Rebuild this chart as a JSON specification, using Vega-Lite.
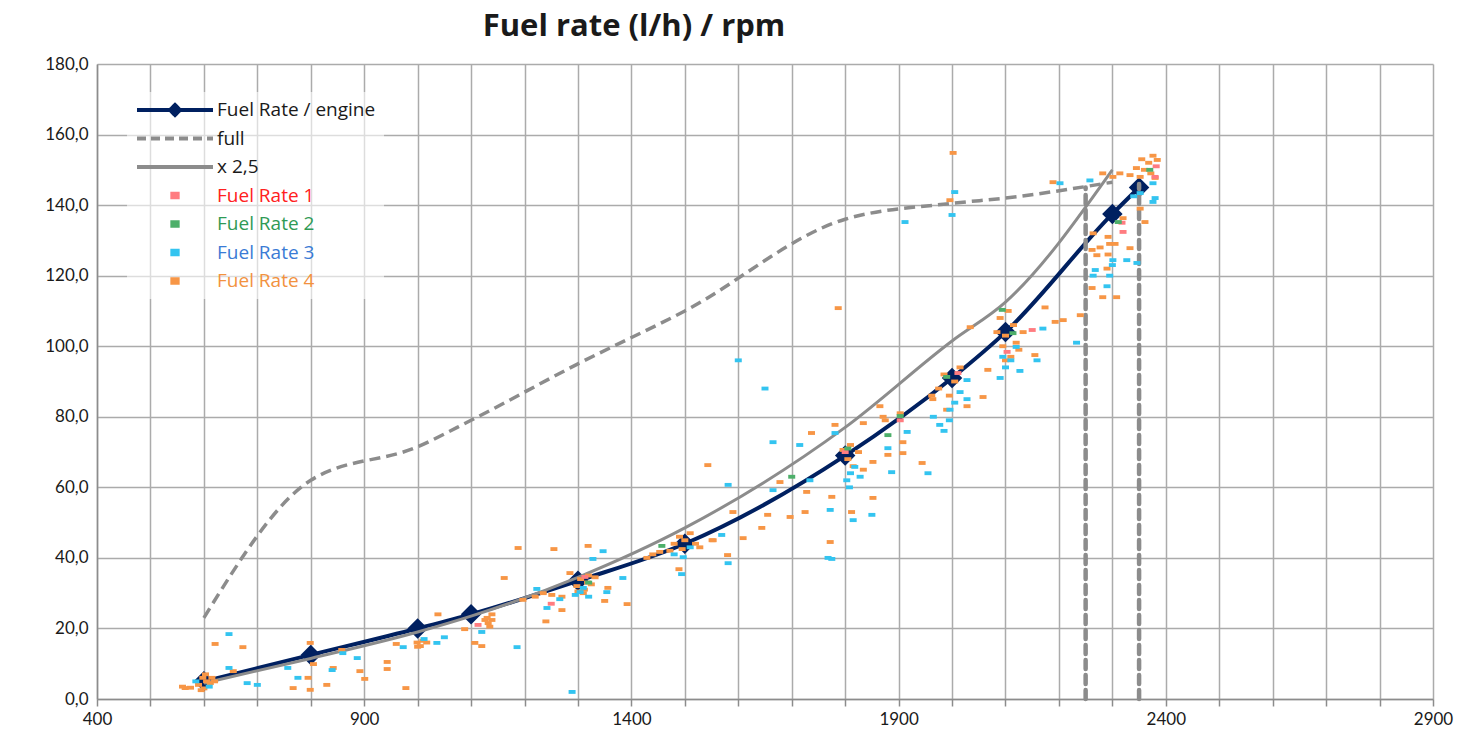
{
  "$schema": "https://vega.github.io/schema/vega-lite/v6.json",
  "width": 1336,
  "height": 635,
  "autosize": "none",
  "padding": {"left": 97, "top": 64, "right": 27, "bottom": 43},
  "background": "white",
  "config": {"view": {"stroke": null}, "font": "Lato"},
  "title": {"text": "Fuel rate (l/h) / rpm", "font": "Open Sans", "fontSize": 31, "fontWeight": "bold", "color": "#1a1a1a", "anchor": "middle", "dx": -131, "offset": 12},
  "datasets": {
    "engine": [
      {"s": "Fuel Rate / engine", "x": 600, "y": 5},
      {"s": "Fuel Rate / engine", "x": 800, "y": 12.5},
      {"s": "Fuel Rate / engine", "x": 1000, "y": 20},
      {"s": "Fuel Rate / engine", "x": 1100, "y": 24},
      {"s": "Fuel Rate / engine", "x": 1300, "y": 33.5},
      {"s": "Fuel Rate / engine", "x": 1500, "y": 44},
      {"s": "Fuel Rate / engine", "x": 1800, "y": 69},
      {"s": "Fuel Rate / engine", "x": 2000, "y": 91},
      {"s": "Fuel Rate / engine", "x": 2100, "y": 104},
      {"s": "Fuel Rate / engine", "x": 2300, "y": 137.5},
      {"s": "Fuel Rate / engine", "x": 2350, "y": 145}
    ],
    "full": [
      {"s": "full", "x": 600, "y": 23},
      {"s": "full", "x": 800, "y": 62},
      {"s": "full", "x": 1000, "y": 71.5},
      {"s": "full", "x": 1100, "y": 79},
      {"s": "full", "x": 1300, "y": 95},
      {"s": "full", "x": 1500, "y": 110},
      {"s": "full", "x": 1800, "y": 136},
      {"s": "full", "x": 2000, "y": 140.5},
      {"s": "full", "x": 2100, "y": 142},
      {"s": "full", "x": 2300, "y": 146.5}
    ],
    "x25": [
      {"s": "x 2,5", "x": 600, "y": 4.5},
      {"s": "x 2,5", "x": 800, "y": 11.5},
      {"s": "x 2,5", "x": 1000, "y": 19},
      {"s": "x 2,5", "x": 1100, "y": 23.5},
      {"s": "x 2,5", "x": 1300, "y": 34.5},
      {"s": "x 2,5", "x": 1500, "y": 48.5},
      {"s": "x 2,5", "x": 1800, "y": 77},
      {"s": "x 2,5", "x": 2000, "y": 101.5},
      {"s": "x 2,5", "x": 2100, "y": 112.5},
      {"s": "x 2,5", "x": 2300, "y": 150}
    ],
    "vlines": [
      {"x": 2250, "y": 0, "y2": 145},
      {"x": 2350, "y": 0, "y2": 146}
    ],
    "scatter": [
      {"s": "Fuel Rate 4", "x": 590, "y": 4}, {"s": "Fuel Rate 4", "x": 600, "y": 3}, {"s": "Fuel Rate 4", "x": 605, "y": 5}, {"s": "Fuel Rate 4", "x": 612, "y": 4.5}, {"s": "Fuel Rate 4", "x": 598, "y": 6}, {"s": "Fuel Rate 4", "x": 615, "y": 6}, {"s": "Fuel Rate 4", "x": 595, "y": 2.5}, {"s": "Fuel Rate 4", "x": 560, "y": 3.5}, {"s": "Fuel Rate 4", "x": 575, "y": 3.2}, {"s": "Fuel Rate 4", "x": 620, "y": 5}, {"s": "Fuel Rate 4", "x": 603, "y": 7},
      {"s": "Fuel Rate 4", "x": 621, "y": 15.6}, {"s": "Fuel Rate 4", "x": 673, "y": 14.7}, {"s": "Fuel Rate 4", "x": 565, "y": 3.1}, {"s": "Fuel Rate 4", "x": 655, "y": 7.9}, {"s": "Fuel Rate 4", "x": 767, "y": 3.1}, {"s": "Fuel Rate 4", "x": 799, "y": 2.6}, {"s": "Fuel Rate 4", "x": 799, "y": 15.9}, {"s": "Fuel Rate 4", "x": 805, "y": 9.9}, {"s": "Fuel Rate 4", "x": 795, "y": 6}, {"s": "Fuel Rate 4", "x": 842, "y": 8.8}, {"s": "Fuel Rate 4", "x": 858, "y": 13.9}, {"s": "Fuel Rate 4", "x": 892, "y": 7.9}, {"s": "Fuel Rate 4", "x": 901, "y": 5.7}, {"s": "Fuel Rate 4", "x": 830, "y": 4}, {"s": "Fuel Rate 4", "x": 943, "y": 10.5}, {"s": "Fuel Rate 4", "x": 943, "y": 8.5}, {"s": "Fuel Rate 4", "x": 978, "y": 3.1}, {"s": "Fuel Rate 4", "x": 960, "y": 15.6}, {"s": "Fuel Rate 4", "x": 999, "y": 16}, {"s": "Fuel Rate 4", "x": 1005, "y": 15}, {"s": "Fuel Rate 4", "x": 1010, "y": 16.5}, {"s": "Fuel Rate 4", "x": 1017, "y": 16}, {"s": "Fuel Rate 4", "x": 1000, "y": 14.8}, {"s": "Fuel Rate 4", "x": 1038, "y": 24}, {"s": "Fuel Rate 4", "x": 1088, "y": 19.8}, {"s": "Fuel Rate 4", "x": 1107, "y": 15.9}, {"s": "Fuel Rate 4", "x": 1120, "y": 15}, {"s": "Fuel Rate 4", "x": 1126, "y": 22.4}, {"s": "Fuel Rate 4", "x": 1132, "y": 21.5}, {"s": "Fuel Rate 4", "x": 1139, "y": 22.4}, {"s": "Fuel Rate 4", "x": 1135, "y": 20.5},
      {"s": "Fuel Rate 4", "x": 1188, "y": 42.8}, {"s": "Fuel Rate 4", "x": 1255, "y": 42.5}, {"s": "Fuel Rate 4", "x": 1162, "y": 34.3}, {"s": "Fuel Rate 4", "x": 1130, "y": 23}, {"s": "Fuel Rate 4", "x": 1139, "y": 24}, {"s": "Fuel Rate 4", "x": 1240, "y": 22}, {"s": "Fuel Rate 4", "x": 1270, "y": 25.2}, {"s": "Fuel Rate 4", "x": 1298, "y": 32}, {"s": "Fuel Rate 4", "x": 1305, "y": 34}, {"s": "Fuel Rate 4", "x": 1312, "y": 31}, {"s": "Fuel Rate 4", "x": 1318, "y": 33}, {"s": "Fuel Rate 4", "x": 1325, "y": 32.5}, {"s": "Fuel Rate 4", "x": 1332, "y": 34.5}, {"s": "Fuel Rate 4", "x": 1310, "y": 30}, {"s": "Fuel Rate 4", "x": 1300, "y": 30.5}, {"s": "Fuel Rate 4", "x": 1320, "y": 35}, {"s": "Fuel Rate 4", "x": 1356, "y": 31.5}, {"s": "Fuel Rate 4", "x": 1350, "y": 27.8}, {"s": "Fuel Rate 4", "x": 1392, "y": 26.9}, {"s": "Fuel Rate 4", "x": 1285, "y": 35.7}, {"s": "Fuel Rate 4", "x": 1319, "y": 43.4}, {"s": "Fuel Rate 4", "x": 1220, "y": 29}, {"s": "Fuel Rate 4", "x": 1235, "y": 30}, {"s": "Fuel Rate 4", "x": 1251, "y": 29.5}, {"s": "Fuel Rate 4", "x": 1197, "y": 28.1}, {"s": "Fuel Rate 4", "x": 1270, "y": 29},
      {"s": "Fuel Rate 4", "x": 1429, "y": 40}, {"s": "Fuel Rate 4", "x": 1440, "y": 41}, {"s": "Fuel Rate 4", "x": 1453, "y": 41.7}, {"s": "Fuel Rate 4", "x": 1472, "y": 42}, {"s": "Fuel Rate 4", "x": 1480, "y": 44}, {"s": "Fuel Rate 4", "x": 1490, "y": 46}, {"s": "Fuel Rate 4", "x": 1500, "y": 45}, {"s": "Fuel Rate 4", "x": 1510, "y": 47}, {"s": "Fuel Rate 4", "x": 1520, "y": 44}, {"s": "Fuel Rate 4", "x": 1528, "y": 43}, {"s": "Fuel Rate 4", "x": 1495, "y": 42.5}, {"s": "Fuel Rate 4", "x": 1551, "y": 45}, {"s": "Fuel Rate 4", "x": 1580, "y": 40.8}, {"s": "Fuel Rate 4", "x": 1489, "y": 36.8}, {"s": "Fuel Rate 4", "x": 1543, "y": 66.3}, {"s": "Fuel Rate 4", "x": 1590, "y": 53}, {"s": "Fuel Rate 4", "x": 1609, "y": 45.6}, {"s": "Fuel Rate 4", "x": 1553, "y": 45}, {"s": "Fuel Rate 4", "x": 1644, "y": 48.5}, {"s": "Fuel Rate 4", "x": 1655, "y": 52.2}, {"s": "Fuel Rate 4", "x": 1678, "y": 61.5}, {"s": "Fuel Rate 4", "x": 1697, "y": 51.6}, {"s": "Fuel Rate 4", "x": 1728, "y": 58.7}, {"s": "Fuel Rate 4", "x": 1775, "y": 57.3}, {"s": "Fuel Rate 4", "x": 1725, "y": 53}, {"s": "Fuel Rate 4", "x": 1772, "y": 44.5}, {"s": "Fuel Rate 4", "x": 1812, "y": 53}, {"s": "Fuel Rate 4", "x": 1852, "y": 57}, {"s": "Fuel Rate 4", "x": 1737, "y": 75.4}, {"s": "Fuel Rate 4", "x": 1781, "y": 77.7}, {"s": "Fuel Rate 4", "x": 1796, "y": 70.6}, {"s": "Fuel Rate 4", "x": 1805, "y": 68}, {"s": "Fuel Rate 4", "x": 1815, "y": 66}, {"s": "Fuel Rate 4", "x": 1825, "y": 70}, {"s": "Fuel Rate 4", "x": 1834, "y": 65}, {"s": "Fuel Rate 4", "x": 1810, "y": 72}, {"s": "Fuel Rate 4", "x": 1852, "y": 67.2}, {"s": "Fuel Rate 4", "x": 1880, "y": 69.2}, {"s": "Fuel Rate 4", "x": 1908, "y": 69.7}, {"s": "Fuel Rate 4", "x": 1944, "y": 66.9}, {"s": "Fuel Rate 4", "x": 1834, "y": 78.2}, {"s": "Fuel Rate 4", "x": 1871, "y": 80}, {"s": "Fuel Rate 4", "x": 1908, "y": 72.8}, {"s": "Fuel Rate 4", "x": 1787, "y": 110.8},
      {"s": "Fuel Rate 4", "x": 1996, "y": 141.4}, {"s": "Fuel Rate 4", "x": 2002, "y": 154.8}, {"s": "Fuel Rate 4", "x": 1964, "y": 85}, {"s": "Fuel Rate 4", "x": 1975, "y": 88}, {"s": "Fuel Rate 4", "x": 1985, "y": 92}, {"s": "Fuel Rate 4", "x": 1995, "y": 86}, {"s": "Fuel Rate 4", "x": 2005, "y": 90}, {"s": "Fuel Rate 4", "x": 2015, "y": 94}, {"s": "Fuel Rate 4", "x": 2028, "y": 83}, {"s": "Fuel Rate 4", "x": 1990, "y": 82}, {"s": "Fuel Rate 4", "x": 2034, "y": 105.4}, {"s": "Fuel Rate 4", "x": 2067, "y": 93.3}, {"s": "Fuel Rate 4", "x": 2058, "y": 85.6}, {"s": "Fuel Rate 4", "x": 1962, "y": 86}, {"s": "Fuel Rate 4", "x": 1903, "y": 81}, {"s": "Fuel Rate 4", "x": 1875, "y": 79}, {"s": "Fuel Rate 4", "x": 1865, "y": 83},
      {"s": "Fuel Rate 4", "x": 2084, "y": 104}, {"s": "Fuel Rate 4", "x": 2090, "y": 108}, {"s": "Fuel Rate 4", "x": 2095, "y": 100}, {"s": "Fuel Rate 4", "x": 2100, "y": 103}, {"s": "Fuel Rate 4", "x": 2105, "y": 110}, {"s": "Fuel Rate 4", "x": 2110, "y": 97}, {"s": "Fuel Rate 4", "x": 2115, "y": 106}, {"s": "Fuel Rate 4", "x": 2120, "y": 101}, {"s": "Fuel Rate 4", "x": 2125, "y": 99}, {"s": "Fuel Rate 4", "x": 2133, "y": 104}, {"s": "Fuel Rate 4", "x": 2100, "y": 96}, {"s": "Fuel Rate 4", "x": 2174, "y": 111}, {"s": "Fuel Rate 4", "x": 2193, "y": 106.9}, {"s": "Fuel Rate 4", "x": 2155, "y": 97.5}, {"s": "Fuel Rate 4", "x": 2240, "y": 108.8}, {"s": "Fuel Rate 4", "x": 2208, "y": 107.4},
      {"s": "Fuel Rate 4", "x": 2262, "y": 116.5}, {"s": "Fuel Rate 4", "x": 2282, "y": 113.9}, {"s": "Fuel Rate 4", "x": 2308, "y": 113.9}, {"s": "Fuel Rate 4", "x": 2262, "y": 127.3}, {"s": "Fuel Rate 4", "x": 2290, "y": 122}, {"s": "Fuel Rate 4", "x": 2292, "y": 126}, {"s": "Fuel Rate 4", "x": 2295, "y": 129}, {"s": "Fuel Rate 4", "x": 2292, "y": 131}, {"s": "Fuel Rate 4", "x": 2305, "y": 129}, {"s": "Fuel Rate 4", "x": 2320, "y": 136.3}, {"s": "Fuel Rate 4", "x": 2333, "y": 127.8}, {"s": "Fuel Rate 4", "x": 2264, "y": 132}, {"s": "Fuel Rate 4", "x": 2277, "y": 128}, {"s": "Fuel Rate 4", "x": 2271, "y": 125.8}, {"s": "Fuel Rate 4", "x": 2352, "y": 139}, {"s": "Fuel Rate 4", "x": 2361, "y": 135.2}, {"s": "Fuel Rate 4", "x": 2352, "y": 148}, {"s": "Fuel Rate 4", "x": 2360, "y": 150}, {"s": "Fuel Rate 4", "x": 2368, "y": 152}, {"s": "Fuel Rate 4", "x": 2376, "y": 154}, {"s": "Fuel Rate 4", "x": 2384, "y": 152.8}, {"s": "Fuel Rate 4", "x": 2372, "y": 149}, {"s": "Fuel Rate 4", "x": 2380, "y": 147.7}, {"s": "Fuel Rate 4", "x": 2333, "y": 148.5}, {"s": "Fuel Rate 4", "x": 2301, "y": 148}, {"s": "Fuel Rate 4", "x": 2314, "y": 149}, {"s": "Fuel Rate 4", "x": 2282, "y": 149}, {"s": "Fuel Rate 4", "x": 2189, "y": 146.5}, {"s": "Fuel Rate 4", "x": 2345, "y": 150.5}, {"s": "Fuel Rate 4", "x": 2355, "y": 153},
      {"s": "Fuel Rate 3", "x": 647, "y": 18.4}, {"s": "Fuel Rate 3", "x": 647, "y": 8.8}, {"s": "Fuel Rate 3", "x": 681, "y": 4.5}, {"s": "Fuel Rate 3", "x": 700, "y": 4}, {"s": "Fuel Rate 3", "x": 757, "y": 8.8}, {"s": "Fuel Rate 3", "x": 776, "y": 6}, {"s": "Fuel Rate 3", "x": 840, "y": 8.2}, {"s": "Fuel Rate 3", "x": 860, "y": 13}, {"s": "Fuel Rate 3", "x": 887, "y": 11.6}, {"s": "Fuel Rate 3", "x": 973, "y": 14.7}, {"s": "Fuel Rate 3", "x": 1036, "y": 15.9}, {"s": "Fuel Rate 3", "x": 1120, "y": 19}, {"s": "Fuel Rate 3", "x": 1012, "y": 17}, {"s": "Fuel Rate 3", "x": 1050, "y": 17.5}, {"s": "Fuel Rate 3", "x": 610, "y": 3.5}, {"s": "Fuel Rate 3", "x": 585, "y": 5},
      {"s": "Fuel Rate 3", "x": 1186, "y": 14.7}, {"s": "Fuel Rate 3", "x": 1242, "y": 25.8}, {"s": "Fuel Rate 3", "x": 1304, "y": 30.3}, {"s": "Fuel Rate 3", "x": 1310, "y": 31.5}, {"s": "Fuel Rate 3", "x": 1295, "y": 29.5}, {"s": "Fuel Rate 3", "x": 1320, "y": 29}, {"s": "Fuel Rate 3", "x": 1354, "y": 30.3}, {"s": "Fuel Rate 3", "x": 1384, "y": 34.3}, {"s": "Fuel Rate 3", "x": 1328, "y": 39.7}, {"s": "Fuel Rate 3", "x": 1347, "y": 41.9}, {"s": "Fuel Rate 3", "x": 1289, "y": 2}, {"s": "Fuel Rate 3", "x": 1223, "y": 31.2}, {"s": "Fuel Rate 3", "x": 1266, "y": 28.3},
      {"s": "Fuel Rate 3", "x": 1497, "y": 40.2}, {"s": "Fuel Rate 3", "x": 1581, "y": 38.5}, {"s": "Fuel Rate 3", "x": 1494, "y": 35.4}, {"s": "Fuel Rate 3", "x": 1569, "y": 46.5}, {"s": "Fuel Rate 3", "x": 1480, "y": 41}, {"s": "Fuel Rate 3", "x": 1510, "y": 43}, {"s": "Fuel Rate 3", "x": 1600, "y": 96}, {"s": "Fuel Rate 3", "x": 1581, "y": 60.7}, {"s": "Fuel Rate 3", "x": 1665, "y": 59.2}, {"s": "Fuel Rate 3", "x": 1734, "y": 62}, {"s": "Fuel Rate 3", "x": 1775, "y": 39.7}, {"s": "Fuel Rate 3", "x": 1772, "y": 53.6}, {"s": "Fuel Rate 3", "x": 1815, "y": 50.7}, {"s": "Fuel Rate 3", "x": 1850, "y": 52.2}, {"s": "Fuel Rate 3", "x": 1781, "y": 75.4}, {"s": "Fuel Rate 3", "x": 1665, "y": 72.8}, {"s": "Fuel Rate 3", "x": 1803, "y": 62}, {"s": "Fuel Rate 3", "x": 1810, "y": 64}, {"s": "Fuel Rate 3", "x": 1818, "y": 65.8}, {"s": "Fuel Rate 3", "x": 1828, "y": 63}, {"s": "Fuel Rate 3", "x": 1808, "y": 60}, {"s": "Fuel Rate 3", "x": 1880, "y": 71.1}, {"s": "Fuel Rate 3", "x": 1887, "y": 64.3}, {"s": "Fuel Rate 3", "x": 1955, "y": 64}, {"s": "Fuel Rate 3", "x": 1916, "y": 75.7}, {"s": "Fuel Rate 3", "x": 1715, "y": 72}, {"s": "Fuel Rate 3", "x": 1768, "y": 40}, {"s": "Fuel Rate 3", "x": 1650, "y": 88},
      {"s": "Fuel Rate 3", "x": 2005, "y": 143.7}, {"s": "Fuel Rate 3", "x": 2000, "y": 137.2}, {"s": "Fuel Rate 3", "x": 1912, "y": 135.2}, {"s": "Fuel Rate 3", "x": 2090, "y": 91}, {"s": "Fuel Rate 3", "x": 2100, "y": 94}, {"s": "Fuel Rate 3", "x": 2110, "y": 96}, {"s": "Fuel Rate 3", "x": 2120, "y": 99.8}, {"s": "Fuel Rate 3", "x": 2127, "y": 93}, {"s": "Fuel Rate 3", "x": 2095, "y": 97}, {"s": "Fuel Rate 3", "x": 2170, "y": 105}, {"s": "Fuel Rate 3", "x": 2159, "y": 96}, {"s": "Fuel Rate 3", "x": 2233, "y": 101}, {"s": "Fuel Rate 3", "x": 2290, "y": 117}, {"s": "Fuel Rate 3", "x": 2295, "y": 120}, {"s": "Fuel Rate 3", "x": 2300, "y": 123}, {"s": "Fuel Rate 3", "x": 2301, "y": 124.4}, {"s": "Fuel Rate 3", "x": 2268, "y": 121.6}, {"s": "Fuel Rate 3", "x": 2264, "y": 120}, {"s": "Fuel Rate 3", "x": 2327, "y": 124.4}, {"s": "Fuel Rate 3", "x": 2346, "y": 123.6}, {"s": "Fuel Rate 3", "x": 2376, "y": 146.2}, {"s": "Fuel Rate 3", "x": 2376, "y": 140.9}, {"s": "Fuel Rate 3", "x": 2352, "y": 143.4}, {"s": "Fuel Rate 3", "x": 2258, "y": 147}, {"s": "Fuel Rate 3", "x": 2202, "y": 146.2}, {"s": "Fuel Rate 3", "x": 2028, "y": 90.4}, {"s": "Fuel Rate 3", "x": 1996, "y": 82}, {"s": "Fuel Rate 3", "x": 2005, "y": 84}, {"s": "Fuel Rate 3", "x": 2015, "y": 87}, {"s": "Fuel Rate 3", "x": 2028, "y": 85}, {"s": "Fuel Rate 3", "x": 1977, "y": 77.7}, {"s": "Fuel Rate 3", "x": 1965, "y": 80}, {"s": "Fuel Rate 3", "x": 1985, "y": 76}, {"s": "Fuel Rate 3", "x": 1995, "y": 79}, {"s": "Fuel Rate 3", "x": 2380, "y": 142}, {"s": "Fuel Rate 3", "x": 2340, "y": 142.5},
      {"s": "Fuel Rate 1", "x": 1113, "y": 21}, {"s": "Fuel Rate 1", "x": 1313, "y": 34.6}, {"s": "Fuel Rate 1", "x": 1903, "y": 79}, {"s": "Fuel Rate 1", "x": 2011, "y": 92.4}, {"s": "Fuel Rate 1", "x": 2150, "y": 104.6}, {"s": "Fuel Rate 1", "x": 2103, "y": 98.4}, {"s": "Fuel Rate 1", "x": 2318, "y": 135}, {"s": "Fuel Rate 1", "x": 2320, "y": 132.4}, {"s": "Fuel Rate 1", "x": 2380, "y": 148}, {"s": "Fuel Rate 1", "x": 2382, "y": 151}, {"s": "Fuel Rate 1", "x": 1250, "y": 27}, {"s": "Fuel Rate 1", "x": 1800, "y": 70},
      {"s": "Fuel Rate 2", "x": 1457, "y": 43.4}, {"s": "Fuel Rate 2", "x": 1903, "y": 80.2}, {"s": "Fuel Rate 2", "x": 1880, "y": 74.8}, {"s": "Fuel Rate 2", "x": 1990, "y": 91.3}, {"s": "Fuel Rate 2", "x": 2114, "y": 103.7}, {"s": "Fuel Rate 2", "x": 2094, "y": 110.3}, {"s": "Fuel Rate 2", "x": 2311, "y": 135.2}, {"s": "Fuel Rate 2", "x": 1805, "y": 71}, {"s": "Fuel Rate 2", "x": 1320, "y": 33}, {"s": "Fuel Rate 2", "x": 2370, "y": 150}, {"s": "Fuel Rate 2", "x": 1700, "y": 63}
    ]
  },
  "layer": [
    {
      "data": {"name": "engine"},
      "mark": {"type": "line", "strokeWidth": 4, "interpolate": "monotone"},
      "encoding": {
        "x": {"field": "x", "type": "quantitative", "scale": {"domain": [400, 2900], "nice": false, "zero": false},
          "axis": {"title": null, "values": [400,500,600,700,800,900,1000,1100,1200,1300,1400,1500,1600,1700,1800,1900,2000,2100,2200,2300,2400,2500,2600,2700,2800,2900],
            "labelExpr": "(datum.value - 400) % 500 === 0 ? format(datum.value, 'd') : ''",
            "grid": true, "gridColor": "#ABABAB", "gridWidth": 1.5,
            "domainColor": "#8C8C8C", "domainWidth": 1.5, "tickColor": "#8C8C8C", "tickSize": 7, "tickWidth": 1.5,
            "labelFont": "Lato", "labelFontSize": 17, "labelColor": "#1a1a1a", "labelPadding": 5,
            "labelOverlap": false, "labelFlush": false, "labelBound": false,
            "encode": {"ticks": {"update": {"opacity": {"signal": "(datum.value - 400) % 500 === 0 ? 1 : 0"}}}}}},
        "y": {"field": "y", "type": "quantitative", "scale": {"domain": [0, 180], "nice": false},
          "axis": {"title": null, "values": [0,5,10,15,20,25,30,35,40,45,50,55,60,65,70,75,80,85,90,95,100,105,110,115,120,125,130,135,140,145,150,155,160,165,170,175,180],
            "labelExpr": "datum.value % 20 === 0 ? replace(format(datum.value, '.1f'), '.', ',') : ''",
            "grid": true, "gridColor": "#ABABAB", "gridWidth": 1.5,
            "domainColor": "#8C8C8C", "domainWidth": 1.5, "ticks": false,
            "labelFont": "Lato", "labelFontSize": 17, "labelColor": "#1a1a1a", "labelPadding": 9, "labelOverlap": false, "labelBound": false}},
        "color": {"field": "s", "type": "nominal",
          "scale": {"domain": ["Fuel Rate / engine", "full", "x 2,5", "Fuel Rate 1", "Fuel Rate 2", "Fuel Rate 3", "Fuel Rate 4"],
                    "range": ["#002060", "#8C8C8C", "#8C8C8C", "#FF7C80", "#4DAF6A", "#33C4F0", "#F79646"]},
          "legend": {"title": null, "orient": "none", "legendX": 30, "legendY": 28, "padding": 8,
            "fillColor": "rgba(255,255,255,0.6)", "strokeColor": null,
            "symbolSize": 5776, "symbolStrokeWidth": 4, "clipHeight": 20, "rowPadding": 8.5, "labelOffset": 2,
            "labelFont": "Open Sans", "labelFontSize": 19, "labelLimit": 300, "symbolOffset": 0,
            "encode": {
              "symbols": {"update": {
                "shape": {"signal": "datum.value === 'Fuel Rate / engine' ? 'M-1,0H1M0,-0.13L0.13,0L0,0.13L-0.13,0Z' : (datum.value === 'full' || datum.value === 'x 2,5') ? 'M-1,0H1' : 'M-0.07,-0.045H0.07V0.045H-0.07Z'"},
                "fill": {"signal": "datum.value === 'Fuel Rate / engine' ? '#002060' : datum.value === 'Fuel Rate 1' ? '#FF7C80' : datum.value === 'Fuel Rate 2' ? '#4DAF6A' : datum.value === 'Fuel Rate 3' ? '#33C4F0' : datum.value === 'Fuel Rate 4' ? '#F79646' : 'transparent'"},
                "stroke": {"signal": "datum.value === 'Fuel Rate / engine' ? '#002060' : (datum.value === 'full' || datum.value === 'x 2,5') ? '#8C8C8C' : 'transparent'"},
                "strokeDash": {"signal": "datum.value === 'full' ? [9, 5] : [1, 0]"},
                "size": {"value": 5776},
                "opacity": {"value": 1}
              }},
              "labels": {"update": {
                "fill": {"signal": "datum.value === 'Fuel Rate 1' ? '#FF2020' : datum.value === 'Fuel Rate 2' ? '#2F9A55' : datum.value === 'Fuel Rate 3' ? '#3A7BD5' : datum.value === 'Fuel Rate 4' ? '#F2923F' : '#1a1a1a'"}
              }}
            }}}
      }
    },
    {
      "data": {"name": "engine"},
      "mark": {"type": "point", "shape": "diamond", "filled": true, "size": 420, "opacity": 1},
      "encoding": {
        "x": {"field": "x", "type": "quantitative"},
        "y": {"field": "y", "type": "quantitative"},
        "color": {"field": "s", "type": "nominal"}
      }
    },
    {
      "data": {"name": "full"},
      "mark": {"type": "line", "strokeWidth": 3.5, "strokeDash": [11, 6], "interpolate": "monotone"},
      "encoding": {
        "x": {"field": "x", "type": "quantitative"},
        "y": {"field": "y", "type": "quantitative"},
        "color": {"field": "s", "type": "nominal"}
      }
    },
    {
      "data": {"name": "x25"},
      "mark": {"type": "line", "strokeWidth": 3, "interpolate": "monotone"},
      "encoding": {
        "x": {"field": "x", "type": "quantitative"},
        "y": {"field": "y", "type": "quantitative"},
        "color": {"field": "s", "type": "nominal"}
      }
    },
    {
      "data": {"name": "vlines"},
      "mark": {"type": "rule", "color": "#8C8C8C", "strokeWidth": 4.5, "strokeDash": [9, 6], "strokeCap": "round"},
      "encoding": {
        "x": {"field": "x", "type": "quantitative"},
        "y": {"field": "y", "type": "quantitative"},
        "y2": {"field": "y2"}
      }
    },
    {
      "data": {"name": "scatter"},
      "mark": {"type": "point", "filled": true, "shape": "M-1,-0.55H1V0.55H-1Z", "size": 49, "opacity": 1, "strokeWidth": 0},
      "encoding": {
        "x": {"field": "x", "type": "quantitative"},
        "y": {"field": "y", "type": "quantitative"},
        "color": {"field": "s", "type": "nominal"}
      }
    }
  ]
}
